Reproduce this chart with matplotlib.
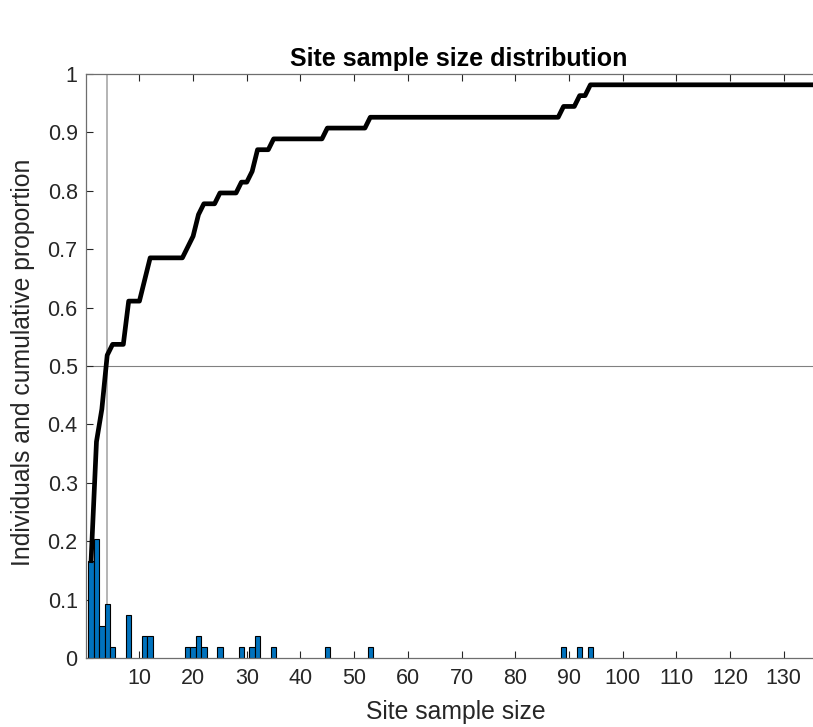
import matplotlib
matplotlib.use('Agg')
import matplotlib.pyplot as plt
import numpy as np

# site sample sizes (number of sites with each size)
sizes = [1, 2, 3, 4, 5, 8, 11, 12, 19, 20, 21, 22, 25, 29, 31, 32, 35, 45, 53, 89, 92, 94, 180]
counts = [9, 11, 3, 5, 1, 4, 2, 2, 1, 1, 2, 1, 1, 1, 1, 2, 1, 1, 1, 1, 1, 1, 1]
xTicks = list(range(10, 140, 10))
yTicks = [0, 0.1, 0.2, 0.3, 0.4, 0.5, 0.6, 0.7, 0.8, 0.9, 1]

plt.rcParams['font.family'] = ['Liberation Sans', 'DejaVu Sans']

sizes = np.array(sizes)
counts = np.array(counts)
nSites = counts.sum()
props = counts / nSites

# cumulative proportion evaluated at each integer size
xGrid = np.arange(1, 140)
cumProp = np.array([counts[sizes <= x].sum() for x in xGrid]) / nSites
median = np.median(np.repeat(sizes, counts))

fig = plt.figure(figsize=(8.13, 7.27), dpi=100)
# axes runs past the right edge, as in the cropped original
ax = fig.add_axes([86 / 813, 69 / 727, 746 / 813, 584 / 727])

ax.axhline(0.5, color='#808080', lw=0.8, zorder=1)
ax.axvline(median, color='#b4b4b4', lw=1.4, zorder=1)
ax.bar(sizes, props, width=1, color='#0072BD', edgecolor='black', linewidth=0.8, zorder=2)
ax.plot(xGrid, cumProp, color='black', lw=3.4, solid_joinstyle='round', zorder=3)

ax.set_xlim(0.05, 139)
ax.set_ylim(0, 1)
ax.set_xticks(xTicks)
ax.set_yticks(yTicks)
ax.set_yticklabels(['%g' % v for v in yTicks])

ax.tick_params(direction='in', length=5, width=0.8, colors='#262626',
               labelsize=15.5, top=True, right=False)
ax.tick_params(axis='x', pad=7)
ax.tick_params(axis='y', pad=6)
for s in ax.spines.values():
    s.set_color('#6e6e6e')
    s.set_linewidth(0.9)

ax.set_title('Site sample size distribution', fontsize=18, fontweight='bold', pad=6)
ax.set_xlabel('Site sample size', fontsize=17.8, color='#262626')
ax.set_ylabel('Individuals and cumulative proportion', fontsize=17.8, color='#262626')
ax.xaxis.set_label_coords(0.496, -0.072)
ax.yaxis.set_label_coords(-0.069, 0.507)

fig.savefig('out.png', dpi=100)
